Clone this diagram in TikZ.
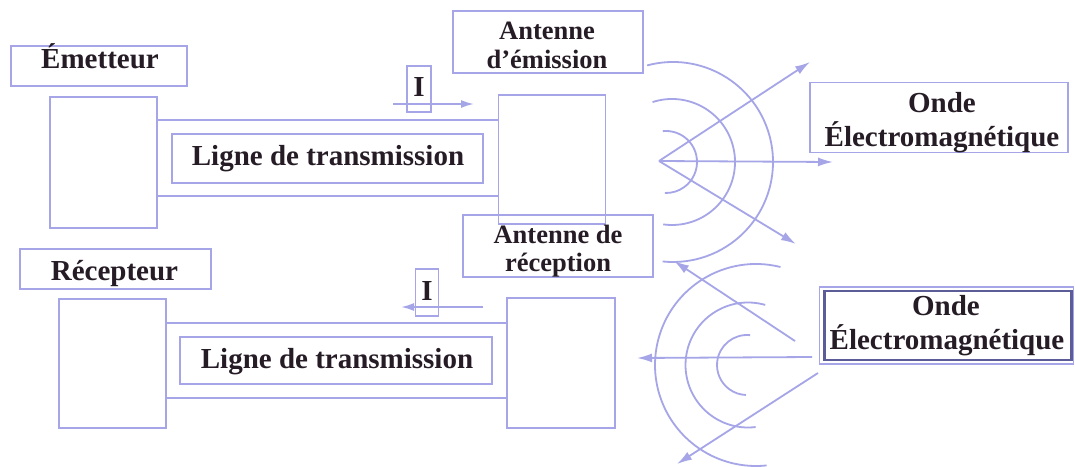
\documentclass[tikz,border=0pt]{standalone}
\usepackage{fontspec}
\setmainfont{Liberation Serif}
\usetikzlibrary{arrows.meta}
\definecolor{wire}{RGB}{165,165,232}
\definecolor{ink}{RGB}{38,28,38}
\definecolor{frame}{RGB}{92,92,152}

\begin{document}
\begin{tikzpicture}[x=1pt,y=-1pt,
  ln/.style={draw=wire, line width=1.8pt},
  box/.style={ln, inner sep=0pt, minimum width=#1},
  txt/.style={text=ink, inner sep=0pt, anchor=base,
              font=\fontsize{29}{34}\selectfont\bfseries},
  stxt/.style={txt, font=\fontsize{26.5}{30}\selectfont\bfseries},
  arr/.style={ln, -{Latex[length=15pt,width=9pt]}},
  iarr/.style={ln, -{Latex[length=13pt,width=8pt]}},
]
\useasboundingbox (0,0) rectangle (1075,466);
\fill[white] (0,0) rectangle (1075,466);

% ---------------- transmitting chain ----------------
\node[box=176pt, minimum height=40pt] (emB) at (99,66) {};
\node[txt] (emT) at (100,68) {Émetteur};

\node[box=107pt, minimum height=131pt] (tx) at (103.5,162.5) {};
\node[box=107pt, minimum height=129pt] (antTx) at (552,159.5) {};

\draw[ln] (tx.east |- 0,120) -- (antTx.west |- 0,120);
\draw[ln] (tx.east |- 0,196) -- (antTx.west |- 0,196);

\node[box=311pt, minimum height=49pt] (lt1B) at (327.5,158.5) {};
\node[txt] (lt1T) at (328,165) {Ligne de transmission};

\node[box=24pt, minimum height=46pt] (i1B) at (419,89) {};
\node[txt] (i1T) at (419,96) {I};
\coordinate (i1s) at (393,104);
\coordinate (i1e) at (474,104);
\draw[iarr] (i1s) -- (i1e);

\node[box=190pt, minimum height=62pt] (aeB) at (548,42) {};
\node[stxt] (aeT1) at (547,39) {Antenne};
\node[stxt] (aeT2) at (547,68) {d’émission};

% radiated wave fronts
\coordinate (c1) at (666,162);
\coordinate (c2) at (672,162);
\coordinate (c3) at (673,162);
\draw[ln] (c1) ++(96:31pt) arc[start angle=96, end angle=-92, radius=31pt];
\draw[ln] (c2) ++(108:63pt) arc[start angle=108, end angle=-98, radius=63pt];
\draw[ln] (c3) ++(105:100pt) arc[start angle=105, end angle=-96, radius=100pt];

\coordinate (src) at (659,161);
\coordinate (tA) at (810,62);
\coordinate (tB) at (833,162);
\coordinate (tC) at (796,244);
\draw[arr] (src) -- (tA);
\draw[arr] (src) -- (tB);
\draw[arr] (src) -- (tC);

\node[box=258pt, minimum height=70pt] (o1B) at (939,117.5) {};
\node[txt] (o1T1) at (942,112) {Onde};
\node[txt] (o1T2) at (942,146) {Électromagnétique};

% ---------------- receiving chain ----------------
\node[box=190pt, minimum height=62pt] (arB) at (558,246) {};
\node[stxt] (arT1) at (558,243) {Antenne de};
\node[stxt] (arT2) at (558,271) {réception};

\node[box=191pt, minimum height=40pt] (rxB) at (115.5,269) {};
\node[txt] (rxT) at (114.5,280) {Récepteur};

\node[box=107pt, minimum height=129pt] (rx) at (112.5,363.5) {};
\node[box=108pt, minimum height=130pt] (antRx) at (561,363) {};

\draw[ln] (rx.east |- 0,323) -- (antRx.west |- 0,323);
\draw[ln] (rx.east |- 0,398) -- (antRx.west |- 0,398);

\node[box=312pt, minimum height=47pt] (lt2B) at (336,360.5) {};
\node[txt] (lt2T) at (337,368) {Ligne de transmission};

\node[box=23pt, minimum height=47pt] (i2B) at (427,292.5) {};
\node[txt] (i2T) at (427,300) {I};
\coordinate (i2s) at (483,307);
\coordinate (i2e) at (401,307);
\draw[iarr] (i2s) -- (i2e);

% incoming wave fronts
\coordinate (d1) at (747,365);
\coordinate (d2) at (748,365);
\coordinate (d3) at (756,365);
\draw[ln] (d1) ++(84:30pt) arc[start angle=84, end angle=268, radius=30pt];
\draw[ln] (d2) ++(74:62.5pt) arc[start angle=74, end angle=277, radius=62.5pt];
\draw[ln] (d3) ++(76:101pt) arc[start angle=76, end angle=276, radius=101pt];

\coordinate (sA) at (795,341);
\coordinate (sB) at (812,357);
\coordinate (sC) at (818,373);
\coordinate (rA) at (674,261);
\coordinate (rB) at (637,358);
\coordinate (rC) at (677,464);
\draw[arr] (sA) -- (rA);
\draw[arr] (sB) -- (rB);
\draw[arr] (sC) -- (rC);

% framed label with a doubled border
\node[draw=wire, line width=1.4pt, inner sep=0pt, minimum width=254pt,
      minimum height=77pt] (o2B) at (946.5,325.5) {};
\node[draw=frame, line width=2.2pt, inner sep=0pt, minimum width=247pt,
      minimum height=69pt] (o2F) at (948,325.5) {};
\node[txt] (o2T1) at (946,315) {Onde};
\node[txt] (o2T2) at (947,349) {Électromagnétique};
\end{tikzpicture}
\end{document}
